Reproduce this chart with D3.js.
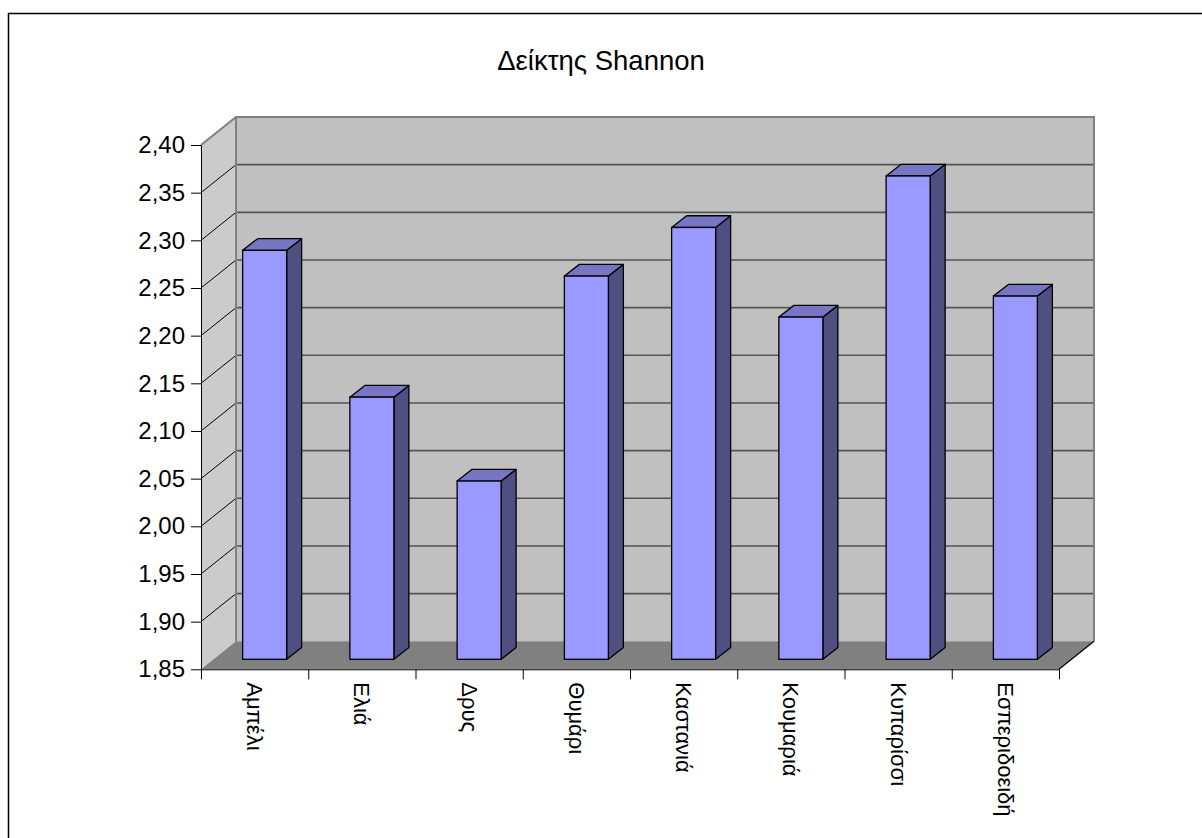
<!DOCTYPE html>
<html><head><meta charset="utf-8">
<script src="https://cdn.jsdelivr.net/npm/d3@7"></script>
<style>body{margin:0;background:#fff}svg{display:block}text{font-family:"Liberation Sans",Arial,sans-serif;fill:#000}</style>
</head><body>
<script>
const categories = ["Αμπέλι","Ελιά","Δρυς","Θυμάρι","Καστανιά","Κουμαριά","Κυπαρίσσι","Εσπεριδοειδή"];
const values = [2.279, 2.125, 2.037, 2.252, 2.303, 2.209, 2.357, 2.231];
const yTicks = [1.85,1.90,1.95,2.00,2.05,2.10,2.15,2.20,2.25,2.30,2.35,2.40];
const title = "Δείκτης Shannon";

const W = 1202, H = 838;
const svg = d3.select("body").append("svg").attr("width", W).attr("height", H);

// chart border
svg.append("rect").attr("x",8.5).attr("y",13.5).attr("width",1400).attr("height",1000)
  .attr("fill","#fff").attr("stroke","#000").attr("stroke-width",1.5);

svg.append("text").attr("x",601).attr("y",70).attr("text-anchor","middle")
  .attr("font-size",27.5).text(title);

const x0 = 201, x1 = 1059, yB = 669.3, yT = 145;
const DX = 35, DY = -28;
const y = d3.scaleLinear().domain([1.85, 2.40]).range([yB, yT]);
const xb = d3.scaleBand().domain(categories).range([x0, x1]);
const xi = d3.scaleLinear().domain([0, categories.length]).range([x0, x1]);

const g = svg.append("g");
// back wall
g.append("rect").attr("x",x0+DX).attr("y",yT+DY).attr("width",x1-x0).attr("height",yB-yT)
  .attr("fill","#c0c0c0");
// left wall
g.append("polygon").attr("points",[[x0,yT],[x0+DX,yT+DY],[x0+DX,yB+DY],[x0,yB]].join(" "))
  .attr("fill","#cbcbcb");
// floor
g.append("polygon").attr("points",[[x0,yB],[x1,yB],[x1+DX,yB+DY],[x0+DX,yB+DY]].join(" "))
  .attr("fill","#808080");

// gridlines on back wall and left wall
yTicks.slice(1, -1).forEach(v => {
  g.append("line").attr("x1",x0+DX).attr("x2",x1+DX).attr("y1",y(v)+DY).attr("y2",y(v)+DY)
    .attr("stroke","#555").attr("stroke-width",1.6);
  g.append("line").attr("x1",x0).attr("y1",y(v)).attr("x2",x0+DX).attr("y2",y(v)+DY)
    .attr("stroke","#000").attr("stroke-width",1);
});
// wall borders
g.append("path").attr("d",`M${x0},${yT}L${x0+DX},${yT+DY}L${x1+DX},${yT+DY}L${x1+DX},${yB+DY}`)
  .attr("fill","none").attr("stroke","#808080").attr("stroke-width",2);
g.append("line").attr("x1",x0+DX).attr("x2",x0+DX).attr("y1",yT+DY).attr("y2",yB+DY)
  .attr("stroke","#808080").attr("stroke-width",2);
g.append("line").attr("x1",x1).attr("y1",yB).attr("x2",x1+DX).attr("y2",yB+DY)
  .attr("stroke","#000").attr("stroke-width",1.2);

// bars
const bw = 44, fOffX = 10, fOffY = -10, bdx = 15, bdy = -11.7;
const bars = g.selectAll("g.bar").data(categories.map((c,i)=>({c, v: values[i]}))).join("g");
bars.each(function(d){
  const s = d3.select(this);
  const xl = xb(d.c) + (xb.bandwidth()-bw)/2 + fOffX;
  const xr = xl + bw;
  const yt = y(d.v) + fOffY;
  const yb = y(1.85) + fOffY;
  s.append("polygon").attr("points",[[xr,yt],[xr+bdx,yt+bdy],[xr+bdx,yb+bdy],[xr,yb]].join(" "))
    .attr("fill","#4f4f82").attr("stroke","#000").attr("stroke-width",1.3).attr("stroke-linejoin","round");
  s.append("polygon").attr("points",[[xl,yt],[xl+bdx,yt+bdy],[xr+bdx,yt+bdy],[xr,yt]].join(" "))
    .attr("fill","#7676c4").attr("stroke","#000").attr("stroke-width",1.3).attr("stroke-linejoin","round");
  s.append("rect").attr("x",xl).attr("y",yt).attr("width",bw).attr("height",yb-yt)
    .attr("fill","#9999ff").attr("stroke","#000").attr("stroke-width",1.3);
});

// y axis
const ya = svg.append("g").attr("transform",`translate(${x0},0)`)
  .call(d3.axisLeft(y).tickValues(yTicks).tickSize(10).tickSizeOuter(0).tickPadding(6)
    .tickFormat(v => d3.format(".2f")(v).replace(".", ",")));
ya.selectAll("text").attr("font-size",24).attr("font-family","Liberation Sans, Arial, sans-serif").attr("fill","#000");
ya.selectAll("line,path").attr("stroke","#000");

// x axis
const xa = svg.append("g").attr("transform",`translate(0,${yB})`)
  .call(d3.axisBottom(xi).tickValues(d3.range(categories.length+1)).tickSize(10).tickSizeOuter(0).tickFormat(""));
xa.selectAll("line,path").attr("stroke","#000");

svg.append("g").selectAll("text").data(categories).join("text")
  .attr("transform", d => `translate(${xb(d)+xb.bandwidth()/2},${yB+13}) rotate(90)`)
  .attr("dominant-baseline","central").attr("font-size",22).text(d => d);
</script>
</body></html>
